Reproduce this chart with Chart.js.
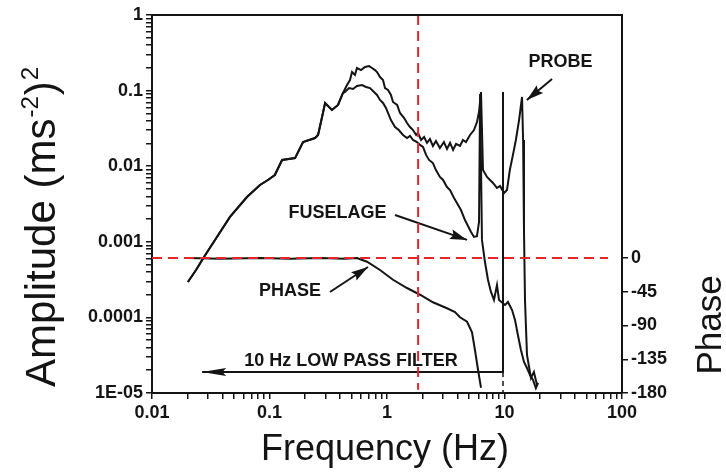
<!DOCTYPE html>
<html><head><meta charset="utf-8">
<script src="https://cdn.jsdelivr.net/npm/chart.js@4.4.1/dist/chart.umd.min.js"></script>
<style>html,body{margin:0;padding:0;background:#fff;}#wrap{width:726px;height:472px;}</style>
</head><body><div id="wrap"><canvas id="c" width="726" height="472"></canvas></div>
<script>
// ---- data ----
const lowFreq = [0.0202,0.0237,0.0277,0.0357,0.0461,0.0643,0.083,0.097,0.111,0.128,0.165,0.193,0.244,0.259,0.285,0.297,0.34,0.383,0.422];
const lowAmp  = [2.94e-4,4.24e-4,6.3e-4,1.16e-3,2.13e-3,3.91e-3,5.64e-3,6.57e-3,7.65e-3,0.0121,0.0128,0.0209,0.0236,0.0259,0.0506,0.0686,0.0554,0.0645,0.093];

const probeFreq = [0.457,0.484,0.504,0.534,0.555,0.601,0.650,0.703,0.745,0.791,0.822,0.872,0.925,0.962,1.02,1.08,1.125,1.22,1.29,1.40,1.48,1.57,1.665,1.77,1.836,1.95,2.07,2.19,2.32,2.46,2.61,2.82,3.05,3.24,3.44,3.65,3.87,4.18,4.43,4.70,5.09,5.50,5.83,6.07,6.31,6.56,7.10,7.53,7.98,8.63,9.16,9.91,10.5,11.1,11.8,12.5,13.3,14.1,14.4,14.65,14.94,15.54,16.8,17.8,18.9];
const probeAmp  = [0.1186,0.138,0.176,0.161,0.199,0.187,0.205,0.211,0.199,0.187,0.176,0.151,0.138,0.1082,0.102,0.0875,0.0707,0.0645,0.0506,0.0434,0.0373,0.033,0.0301,0.0259,0.0275,0.0222,0.0243,0.0203,0.0229,0.0185,0.0216,0.0174,0.0209,0.0169,0.0203,0.0164,0.0197,0.0185,0.0222,0.0209,0.0259,0.0301,0.0384,0.0521,0.0958,8.9e-3,7.2e-3,6.57e-3,6.0e-3,5.15e-3,5.47e-3,4.42e-3,4.84e-3,8.9e-3,0.0141,0.0222,0.0408,0.0823,0.0222,1.43e-3,1.70e-4,3.18e-5,1.58e-5,1.9e-5,1.28e-5];

const fuselageFreq = [0.439,0.475,0.514,0.555,0.613,0.663,0.717,0.775,0.822,0.872,0.925,0.98,1.02,1.08,1.17,1.26,1.368,1.48,1.57,1.665,1.80,1.91,2.025,2.15,2.28,2.46,2.61,2.82,3.0,3.24,3.44,3.72,3.94,4.26,4.61,4.89,5.19,5.50,5.83,6.07,6.2,6.43,6.82,7.24,7.67,8.14,8.63,8.98,10.1,10.7,11.6,12.3,13.0,13.8,14.65,15.54,16.48,17.48,18.5,19.3];
const fuselageAmp  = [0.0958,0.108,0.105,0.115,0.1186,0.1116,0.108,0.0958,0.0875,0.0751,0.0686,0.0589,0.0506,0.0408,0.033,0.0301,0.0259,0.0236,0.0251,0.0222,0.0209,0.0191,0.018,0.0141,0.0121,0.011,8.9e-3,7.2e-3,6.57e-3,5.3e-3,4.84e-3,3.8e-3,3.26e-3,2.63e-3,1.94e-3,1.62e-3,1.35e-3,1.16e-3,1.19e-3,1.83e-3,0.09,1.06e-3,5.4e-4,3.13e-4,2.17e-4,1.70e-4,2.68e-4,1.70e-4,1.46e-4,1.6e-4,1.25e-4,9.2e-5,5.85e-5,3.7e-5,2.57e-5,2.14e-5,1.73e-5,1.49e-5,1.16e-5,1.36e-5];

const phaseFreq = [0.0202,0.0379,0.083,0.1495,0.269,0.439,0.555,0.676,0.872,1.125,1.48,1.91,2.46,3.24,3.79,4.18,4.80,5.29,5.61,5.95,6.31];
const phaseDeg  = [0,-1,0,-1,0,-1,0,-5,-16,-29,-40,-49,-59,-67,-72,-79,-85,-99,-123,-149,-173];

const filterFreq = [9.71, 9.71, 0.0267];
const filterAmp  = [0.0958, 1.9e-5, 1.9e-5];
const filterStubAmp = [1.9e-5, 1e-5];

const refLineFreq = 1.84;          // vertical red dashed line
const refLinePhase = 0;            // horizontal red dashed line (phase 0)
const refLineEndFreq = 76;

const xTickValues = [0.01,0.1,1,10,100];
const xTickLabels = ['0.01','0.1','1','10','100'];
const yTickValues = [1,0.1,0.01,0.001,0.0001,0.00001];
const yTickLabels = ['1','0.1','0.01','0.001','0.0001','1E-05'];
const phaseTickValues = [0,-45,-90,-135,-180];
const phaseTickLabels = ['0','-45','-90','-135','-180'];

const noteTexts = ['FUSELAGE','PROBE','PHASE','10 Hz LOW PASS FILTER'];
const noteFreq  = [0.379, 30, 0.1495, 0.494];
const noteAmp   = [2.40e-3, 0.239, 2.20e-4, 2.61e-5];

const arrowTail = [[1.17,2.26e-3],[25.4,0.142],[0.327,2.17e-4]];
const arrowTip  = [[4.80,1.06e-3],[15.5,0.0751],[0.689,4.64e-4]];

// ---- build ----
const pts = (xs, ys) => xs.map((x,i)=>({x, y: ys[i]}));
const FONT = "'Liberation Sans', Arial, sans-serif";
const INK = '#141414';
const RED = '#e3262c';

function logTickList(decades){
  const t=[];
  for(let d=0; d<decades.length-1; d++){
    for(let k=1;k<10;k++) t.push({value: +(decades[d]*k).toPrecision(4)});
  }
  t.push({value: decades[decades.length-1]});
  return t;
}
function labelFor(vals, labels){
  return v => { const i = vals.findIndex(t => Math.abs(t - v) <= Math.abs(t)*1e-6); return i>=0 ? labels[i] : ''; };
}

const lineBase = {pointRadius:0, borderColor:INK, borderWidth:2, tension:0, fill:false};

const datasets = [
  {...lineBase, label:'ref-v', data:[{x:refLineFreq,y:1},{x:refLineFreq,y:1.1e-5}], borderColor:RED, borderDash:[10,6], borderWidth:2, yAxisID:'y'},
  {...lineBase, label:'ref-h', data:[{x:0.01,y:refLinePhase},{x:refLineEndFreq,y:refLinePhase}], borderColor:RED, borderDash:[10,6], borderWidth:2, yAxisID:'y2'},
  {...lineBase, label:'Probe', data:pts(lowFreq.concat(probeFreq), lowAmp.concat(probeAmp)), yAxisID:'y'},
  {...lineBase, label:'Fuselage', data:pts(lowFreq.concat(fuselageFreq), lowAmp.concat(fuselageAmp)), yAxisID:'y'},
  {...lineBase, label:'Phase', data:pts(phaseFreq, phaseDeg), yAxisID:'y2'},
  {...lineBase, label:'10 Hz filter', data:pts(filterFreq, filterAmp), yAxisID:'y', arrowHead:{len:24, half:4}},
  {...lineBase, label:'filter stub', data:pts([filterFreq[0],filterFreq[0]], filterStubAmp), borderDash:[5,4], borderWidth:1.5, yAxisID:'y'},
];
arrowTail.forEach((t,i)=>{
  datasets.push({...lineBase, label:'arrow'+i, borderWidth:2, data:[{x:t[0],y:t[1]},{x:arrowTip[i][0],y:arrowTip[i][1]}], yAxisID:'y', arrowHead:{len:17, half:5}});
});

const decor = {
  id:'decor',
  afterDatasetsDraw(chart){
    const {ctx, chartArea:a, scales} = chart;
    ctx.save();
    ctx.strokeStyle = INK; ctx.lineWidth = 2;
    ctx.beginPath(); ctx.moveTo(a.left-1, a.top); ctx.lineTo(a.right+1, a.top); ctx.stroke();
    chart.data.datasets.forEach((ds,i)=>{
      if(!ds.arrowHead) return;
      const d = chart.getDatasetMeta(i).data;
      const p = d[d.length-1], q = d[d.length-2];
      const ang = Math.atan2(p.y-q.y, p.x-q.x);
      ctx.save(); ctx.translate(p.x, p.y); ctx.rotate(ang);
      ctx.beginPath(); ctx.moveTo(0,0); ctx.lineTo(-ds.arrowHead.len,-ds.arrowHead.half); ctx.lineTo(-ds.arrowHead.len*0.85,0); ctx.lineTo(-ds.arrowHead.len,ds.arrowHead.half); ctx.closePath();
      ctx.fillStyle = INK; ctx.fill(); ctx.restore();
    });
    ctx.fillStyle = INK; ctx.font = 'bold 18px ' + FONT; ctx.textAlign='center'; ctx.textBaseline='middle';
    noteTexts.forEach((t,i)=>{
      ctx.fillText(t, scales.x.getPixelForValue(noteFreq[i]), scales.y.getPixelForValue(noteAmp[i]));
    });
    ctx.restore();
  },
  afterDraw(chart){
    const ctx = chart.ctx;
    ctx.save();
    ctx.fillStyle = INK; ctx.textBaseline = 'alphabetic';
    // left title with superscripts
    ctx.save(); ctx.translate(55, 387); ctx.rotate(-Math.PI/2); ctx.textAlign='left';
    let x = 0;
    const big = '42px ' + FONT, small = '24px ' + FONT;
    ctx.font = big; ctx.fillText('Amplitude (ms', x, 0); x += ctx.measureText('Amplitude (ms').width + 1;
    ctx.font = small; ctx.fillText('-2', x, -17); x += ctx.measureText('-2').width + 1;
    ctx.font = big; ctx.fillText(')', x, 0); x += ctx.measureText(')').width + 1;
    ctx.font = small; ctx.fillText('2', x, -17);
    ctx.restore();
    // bottom title
    ctx.font = '36px ' + FONT; ctx.textAlign = 'center';
    ctx.fillText('Frequency (Hz)', 385, 460);
    // right title
    ctx.save(); ctx.translate(721, 325); ctx.rotate(-Math.PI/2); ctx.font = '35px ' + FONT; ctx.textAlign='center';
    ctx.fillText('Phase', 0, 0); ctx.restore();
    ctx.restore();
  }
};

const tickFont = {family: FONT, size: 18, weight: 'bold'};
const gridOpts = {display:true, drawOnChartArea:false, drawTicks:true, tickLength:6, color:INK, lineWidth:1.5};

new Chart(document.getElementById('c'), {
  type:'line',
  data:{datasets},
  options:{
    responsive:false, animation:false, devicePixelRatio:1,
    layout:{padding:{top:15, left:0, right:0, bottom:0}},
    plugins:{legend:{display:false}, tooltip:{enabled:false}},
    scales:{
      x:{type:'logarithmic', min:0.01, max:100, position:'bottom',
         border:{display:true, color:INK, width:2}, grid:gridOpts,
         afterBuildTicks: s => { s.ticks = logTickList(xTickValues); },
         afterFit: s => { s.height = 79; },
         ticks:{autoSkip:false, maxRotation:0, padding:3, color:INK, font:tickFont, callback: labelFor(xTickValues, xTickLabels)}},
      y:{type:'logarithmic', min:0.00001, max:1, position:'left',
         border:{display:true, color:INK, width:2}, grid:gridOpts,
         afterBuildTicks: s => { s.ticks = logTickList(yTickValues.slice().reverse()); },
         afterFit: s => { s.width = 152; },
         ticks:{autoSkip:false, padding:3, color:INK, font:tickFont, callback: labelFor(yTickValues, yTickLabels)}},
      y2:{type:'linear', min:-180, max:324, position:'right',
         border:{display:true, color:INK, width:2}, grid:gridOpts,
         afterBuildTicks: s => { s.ticks = phaseTickValues.slice().reverse().map(v=>({value:v})); },
         afterFit: s => { s.width = 104; },
         ticks:{autoSkip:false, padding:3, color:INK, font:tickFont, callback: labelFor(phaseTickValues, phaseTickLabels)}}
    }
  },
  plugins:[decor]
});
</script></body></html>
